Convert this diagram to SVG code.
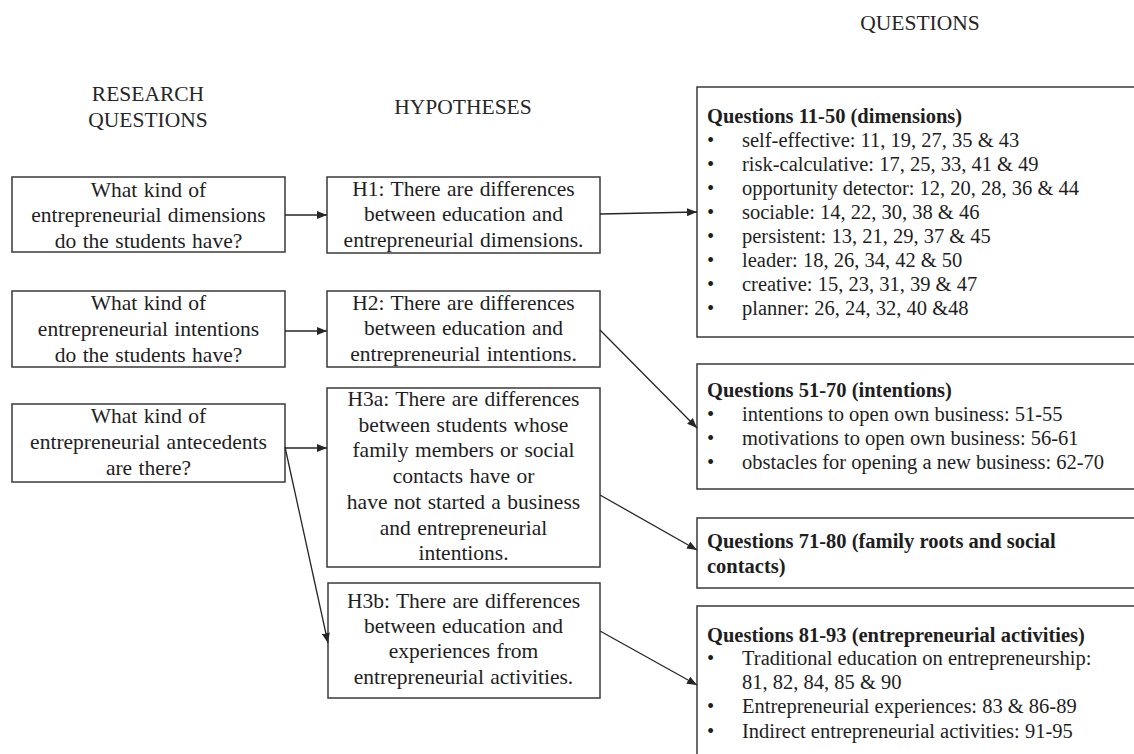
<svg xmlns="http://www.w3.org/2000/svg" width="1134" height="754" viewBox="0 0 1134 754">
  <defs>
    <marker id="arrow" viewBox="0 0 10 8" refX="10" refY="4" markerWidth="10" markerHeight="8" markerUnits="userSpaceOnUse" orient="auto">
      <path d="M0,0 L10,4 L0,8 Z" fill="#262626"/>
    </marker>
    <style>
      .box { fill: #ffffff; stroke: #3a3a3a; stroke-width: 1.5; }
      .head { font-family: "Liberation Serif", "Times New Roman", serif; font-size: 21.5px; fill: #262626; text-anchor: middle; }
      .mid { font-family: "Liberation Serif", "Times New Roman", serif; font-size: 21.5px; fill: #1e1e1e; text-anchor: middle; word-spacing: 1px; }
      .q { font-family: "Liberation Serif", "Times New Roman", serif; font-size: 20.5px; fill: #1e1e1e; }
      .qb { font-weight: bold; }
      .edge { stroke: #262626; stroke-width: 1.3; fill: none; marker-end: url(#arrow); }
    </style>
  </defs>

  <rect width="1134" height="754" fill="#ffffff"/>

  <!-- column headings -->
  <g id="headings">
    <text class="head" x="148" y="101">RESEARCH</text>
    <text class="head" x="148" y="127">QUESTIONS</text>
    <text class="head" x="463" y="114">HYPOTHESES</text>
    <text class="head" x="920" y="30">QUESTIONS</text>
  </g>

  <!-- research questions -->
  <g id="rq1">
    <rect class="box" x="12" y="177" width="273" height="75"/>
    <text class="mid" x="148.5" y="197">What kind of</text>
    <text class="mid" x="148.5" y="222">entrepreneurial  dimensions</text>
    <text class="mid" x="148.5" y="248">do the students have?</text>
  </g>
  <g id="rq2">
    <rect class="box" x="12" y="291" width="273" height="76"/>
    <text class="mid" x="148.5" y="310">What kind of</text>
    <text class="mid" x="148.5" y="336">entrepreneurial  intentions</text>
    <text class="mid" x="148.5" y="362">do the students have?</text>
  </g>
  <g id="rq3">
    <rect class="box" x="12" y="404" width="273" height="78"/>
    <text class="mid" x="148.5" y="423">What kind of</text>
    <text class="mid" x="148.5" y="449">entrepreneurial  antecedents</text>
    <text class="mid" x="148.5" y="475">are there?</text>
  </g>

  <!-- hypotheses -->
  <g id="h1">
    <rect class="box" x="327" y="177" width="273" height="76"/>
    <text class="mid" x="463.5" y="196">H1: There are differences</text>
    <text class="mid" x="463.5" y="221">between education and</text>
    <text class="mid" x="463.5" y="247">entrepreneurial  dimensions.</text>
  </g>
  <g id="h2">
    <rect class="box" x="327" y="291" width="273" height="76"/>
    <text class="mid" x="463.5" y="310">H2: There are differences</text>
    <text class="mid" x="463.5" y="335">between education and</text>
    <text class="mid" x="463.5" y="361">entrepreneurial  intentions.</text>
  </g>
  <g id="h3a">
    <rect class="box" x="327" y="388" width="273" height="179"/>
    <text class="mid" x="463.5" y="406">H3a: There are differences</text>
    <text class="mid" x="463.5" y="432">between students whose</text>
    <text class="mid" x="463.5" y="457">family  members or social</text>
    <text class="mid" x="463.5" y="483">contacts have or</text>
    <text class="mid" x="463.5" y="509">have not started a business</text>
    <text class="mid" x="463.5" y="535">and entrepreneurial</text>
    <text class="mid" x="463.5" y="560">intentions.</text>
  </g>
  <g id="h3b">
    <rect class="box" x="328" y="583" width="272" height="115"/>
    <text class="mid" x="463.5" y="608">H3b: There are differences</text>
    <text class="mid" x="463.5" y="633">between education and</text>
    <text class="mid" x="463.5" y="658">experiences from</text>
    <text class="mid" x="463.5" y="684">entrepreneurial  activities.</text>
  </g>

  <!-- questionnaire sections -->
  <g id="q11-50">
    <rect class="box" x="697" y="87" width="450" height="250"/>
    <text class="q qb" x="707" y="123">Questions 11-50 (dimensions)</text>
    <g class="q">
      <text x="707" y="147">•</text><text x="742" y="147">self-effective: 11, 19, 27, 35 &amp; 43</text>
      <text x="707" y="171">•</text><text x="742" y="171">risk-calculative:  17, 25, 33, 41 &amp; 49</text>
      <text x="707" y="195">•</text><text x="742" y="195">opportunity  detector: 12, 20, 28, 36 &amp; 44</text>
      <text x="707" y="219">•</text><text x="742" y="219">sociable: 14, 22, 30, 38 &amp; 46</text>
      <text x="707" y="243">•</text><text x="742" y="243">persistent: 13, 21, 29, 37 &amp; 45</text>
      <text x="707" y="267">•</text><text x="742" y="267">leader: 18, 26, 34, 42 &amp; 50</text>
      <text x="707" y="291">•</text><text x="742" y="291">creative: 15, 23, 31, 39 &amp; 47</text>
      <text x="707" y="315">•</text><text x="742" y="315">planner:  26, 24, 32, 40 &amp;48</text>
    </g>
  </g>
  <g id="q51-70">
    <rect class="box" x="697" y="364" width="450" height="125"/>
    <text class="q qb" x="707" y="397">Questions 51-70 (intentions)</text>
    <g class="q">
      <text x="707" y="421">•</text><text x="742" y="421">intentions to open own  business: 51-55</text>
      <text x="707" y="445">•</text><text x="742" y="445">motivations to open own business: 56-61</text>
      <text x="707" y="469">•</text><text x="742" y="469">obstacles for opening a new  business: 62-70</text>
    </g>
  </g>
  <g id="q71-80">
    <rect class="box" x="697" y="518" width="450" height="70"/>
    <text class="q qb" x="707" y="548">Questions 71-80 (family roots and  social</text>
    <text class="q qb" x="707" y="573">contacts)</text>
  </g>
  <g id="q81-93">
    <rect class="box" x="697" y="606" width="450" height="160"/>
    <text class="q qb" x="707" y="642">Questions 81-93 (entrepreneurial activities)</text>
    <g class="q">
      <text x="707" y="665">•</text><text x="742" y="665">Traditional  education on entrepreneurship:</text>
      <text x="742" y="689">81, 82, 84, 85 &amp; 90</text>
      <text x="707" y="713">•</text><text x="742" y="713">Entrepreneurial  experiences: 83 &amp; 86-89</text>
      <text x="707" y="738">•</text><text x="742" y="738">Indirect entrepreneurial  activities: 91-95</text>
    </g>
  </g>

  <!-- connectors -->
  <g id="connectors">
    <line class="edge" x1="285" y1="215" x2="327" y2="215"/>
    <line class="edge" x1="600" y1="214" x2="697" y2="212"/>
    <line class="edge" x1="285" y1="331" x2="327" y2="331"/>
    <line class="edge" x1="600" y1="330" x2="697" y2="428"/>
    <line class="edge" x1="285" y1="448" x2="327" y2="448"/>
    <line class="edge" x1="285" y1="447" x2="328" y2="643"/>
    <line class="edge" x1="600" y1="495" x2="697" y2="550"/>
    <line class="edge" x1="600" y1="631" x2="697" y2="685"/>
  </g>
</svg>
